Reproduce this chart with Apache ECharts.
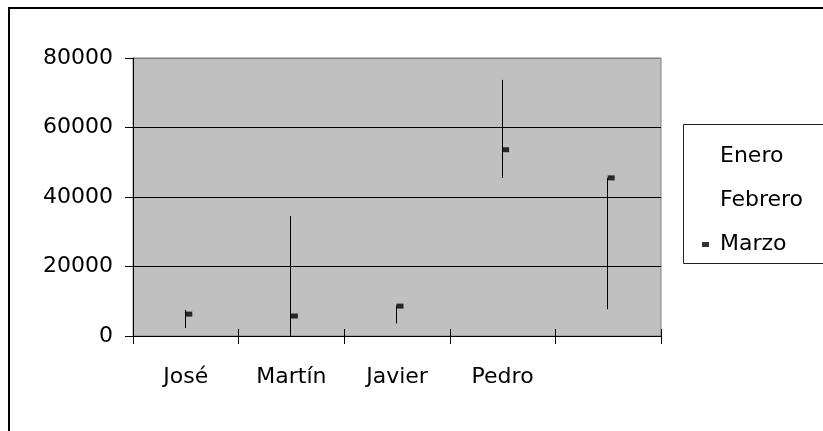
<!DOCTYPE html>
<html>
<head>
<meta charset="utf-8">
<script src="https://cdn.jsdelivr.net/npm/echarts@6/dist/echarts.min.js"></script>
<style>
  html, body { margin: 0; padding: 0; background: #fff; }
  #chart { width: 823px; height: 431px; }
</style>
</head>
<body>
<div id="chart"></div>
<script>
// values
const categories = ['José', 'Martín', 'Javier', 'Pedro', ''];
const enero = [7500, 34500, 8700, 73700, 7700];
const febrero = [2300, 0, 3600, 45500, 20000];
const marzo = [6300, 5750, 8600, 53600, 45500];
const yTicks = [0, 20000, 40000, 60000, 80000];

const font = "'Comic Sans MS', 'DejaVu Sans', sans-serif";

// high-low line for each category, spanning all three months
const hiLo = categories.map((c, i) => {
  const vals = [enero[i], febrero[i], marzo[i]];
  return [i, Math.min(...vals), Math.max(...vals)];
});

const chart = echarts.init(document.getElementById('chart'));

chart.setOption({
  animation: false,
  backgroundColor: '#fff',
  grid: {
    left: 133,
    right: 162,
    top: 58,
    bottom: 95,
    show: true,
    backgroundColor: '#c0c0c0',
    borderColor: '#808080',
    borderWidth: 1
  },
  legend: {
    orient: 'vertical',
    left: 696,
    top: 139,
    itemWidth: 7,
    itemHeight: 5,
    itemGap: 19,
    textStyle: { fontFamily: font, fontSize: 22, color: '#000', lineHeight: 25, padding: [0, 0, 0, 6] },
    data: [
      { name: 'Enero', itemStyle: { opacity: 0 } },
      { name: 'Febrero', itemStyle: { opacity: 0 } },
      { name: 'Marzo', icon: 'rect', itemStyle: { color: '#000' } }
    ]
  },
  xAxis: [{
    type: 'category',
    data: categories,
    position: 'bottom',
    axisLine: { lineStyle: { color: '#000', width: 1 } },
    axisTick: { show: true, length: 8, lineStyle: { color: '#000' } },
    axisLabel: { fontFamily: font, fontSize: 22, color: '#000', margin: 30 },
    splitLine: { show: false },
    z: 5
  }, {
    // second axis only supplies the inner half of the crossing ticks
    type: 'category',
    data: categories,
    position: 'bottom',
    offset: 0,
    axisLine: { show: false },
    axisTick: { show: true, inside: true, length: 7, lineStyle: { color: '#000' } },
    axisLabel: { show: false },
    splitLine: { show: false },
    z: 5
  }],
  yAxis: {
    type: 'value',
    min: yTicks[0],
    max: yTicks[yTicks.length - 1],
    interval: yTicks[1] - yTicks[0],
    position: 'left',
    axisLine: { show: true, lineStyle: { color: '#000', width: 1 } },
    axisTick: { show: true, length: 8, lineStyle: { color: '#000' } },
    axisLabel: { fontFamily: font, fontSize: 22, color: '#000', margin: 20, formatter: v => String(v) },
    splitLine: { show: true, lineStyle: { color: ['#000', '#000', '#000', '#000', '#808080'], width: 1 } }
  },
  series: [
    {
      name: 'Enero',
      type: 'line',
      data: enero,
      symbol: 'none',
      lineStyle: { opacity: 0 },
      itemStyle: { color: '#000' },
      silent: true
    },
    {
      name: 'Febrero',
      type: 'line',
      xAxisIndex: 1,
      data: febrero,
      symbol: 'none',
      lineStyle: { opacity: 0 },
      itemStyle: { color: '#000' },
      silent: true
    },
    {
      name: 'hilo',
      type: 'custom',
      data: hiLo,
      renderItem: (params, api) => {
        const top = api.coord([api.value(0), api.value(2)]);
        const bot = api.coord([api.value(0), api.value(1)]);
        const x = Math.round(top[0]) - 0.5;
        return {
          type: 'line',
          shape: { x1: x, y1: top[1], x2: x, y2: bot[1] },
          style: { stroke: '#000', lineWidth: 1 }
        };
      },
      z: 3
    },
    {
      name: 'Marzo',
      type: 'scatter',
      data: marzo,
      symbol: 'rect',
      symbolSize: [7, 5],
      symbolOffset: [3, 0],
      itemStyle: { color: '#000' },
      z: 4
    }
  ],
  graphic: [
    {
      type: 'rect',
      shape: { x: 683.5, y: 124.5, width: 200, height: 139 },
      style: { fill: 'none', stroke: '#222', lineWidth: 1 },
      z: -1
    },
    {
      type: 'rect',
      shape: { x: 9, y: 8, width: 840, height: 450 },
      style: { fill: 'none', stroke: '#000', lineWidth: 2 },
      z: -1
    }
  ]
});
</script>
</body>
</html>
